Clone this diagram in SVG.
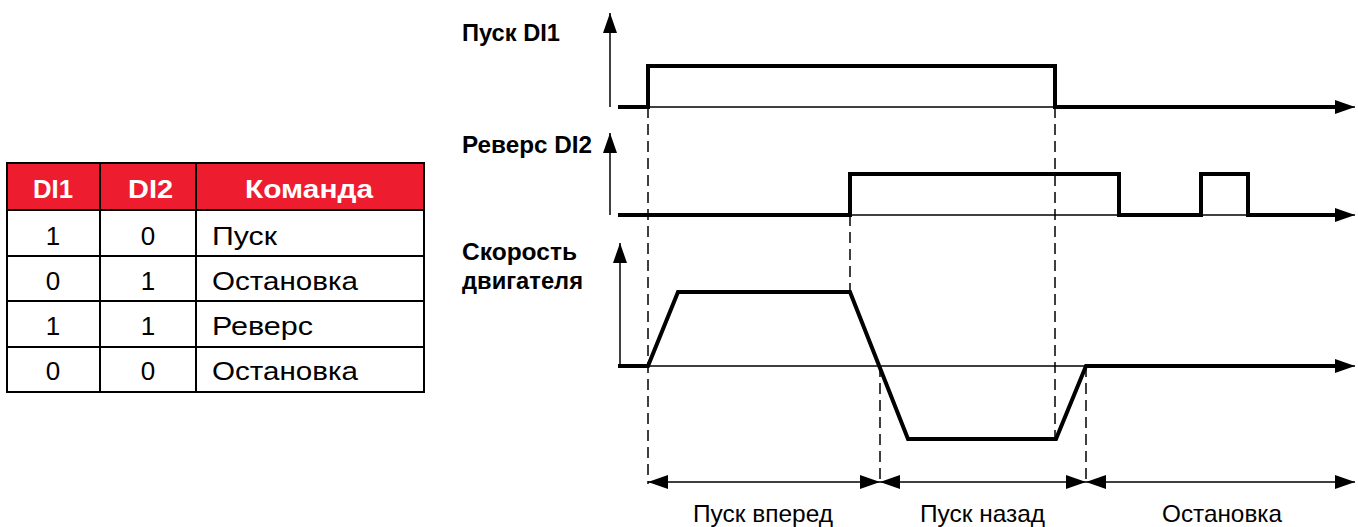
<svg xmlns="http://www.w3.org/2000/svg" width="1358" height="527" viewBox="0 0 1358 527">
<defs>
<style>
.thin{stroke:#000;stroke-width:1.5;fill:none}
.thick{stroke:#000;stroke-width:4;fill:none;stroke-linejoin:miter;stroke-linecap:square}
.dash{stroke:#000;stroke-width:1.5;fill:none;stroke-dasharray:11 6}
.lbl{font-family:"Liberation Sans",Arial,sans-serif;font-weight:bold;font-size:23px;fill:#000}
.cap{font-family:"Liberation Sans",Arial,sans-serif;font-size:24px;fill:#000}
.th{font-family:"Liberation Sans",Arial,sans-serif;font-weight:bold;font-size:26px;fill:#fff}
.td{font-family:"Liberation Sans",Arial,sans-serif;font-size:26px;fill:#000}
.grid{stroke:#000;stroke-width:2;fill:none}
</style>
<marker id="ah" viewBox="0 0 20 14" refX="20" refY="7" markerWidth="20" markerHeight="14" markerUnits="userSpaceOnUse" orient="auto-start-reverse">
<path d="M0,0 L20,7 L0,14 Z" fill="#000"/>
</marker>
</defs>

<g id="table">
<rect x="7" y="163" width="417" height="47" fill="#ED1C2E"/>
<rect x="7" y="163" width="417" height="229" class="grid"/>
<line x1="100" y1="163" x2="100" y2="392" class="grid"/>
<line x1="196" y1="163" x2="196" y2="392" class="grid"/>
<line x1="7" y1="210" x2="424" y2="210" class="grid"/>
<line x1="7" y1="256" x2="424" y2="256" class="grid"/>
<line x1="7" y1="301" x2="424" y2="301" class="grid"/>
<line x1="7" y1="347" x2="424" y2="347" class="grid"/>
<text class="th" x="33" y="198" textLength="40" lengthAdjust="spacingAndGlyphs">DI1</text>
<text class="th" x="128" y="198" textLength="45" lengthAdjust="spacingAndGlyphs">DI2</text>
<text class="th" x="245" y="198" textLength="128" lengthAdjust="spacingAndGlyphs">Команда</text>
<text class="td" x="53" y="245" text-anchor="middle">1</text>
<text class="td" x="148" y="245" text-anchor="middle">0</text>
<text class="td" x="212" y="245" textLength="65" lengthAdjust="spacingAndGlyphs">Пуск</text>
<text class="td" x="53" y="290" text-anchor="middle">0</text>
<text class="td" x="148" y="290" text-anchor="middle">1</text>
<text class="td" x="212" y="290" textLength="146" lengthAdjust="spacingAndGlyphs">Остановка</text>
<text class="td" x="53" y="335" text-anchor="middle">1</text>
<text class="td" x="148" y="335" text-anchor="middle">1</text>
<text class="td" x="212" y="335" textLength="101" lengthAdjust="spacingAndGlyphs">Реверс</text>
<text class="td" x="53" y="380" text-anchor="middle">0</text>
<text class="td" x="148" y="380" text-anchor="middle">0</text>
<text class="td" x="212" y="380" textLength="146" lengthAdjust="spacingAndGlyphs">Остановка</text>
</g>

<g id="di1">
<text class="lbl" x="462" y="41" textLength="98" lengthAdjust="spacingAndGlyphs">Пуск DI1</text>
<line x1="610" y1="107" x2="610" y2="13" class="thin" marker-end="url(#ah)"/>
<line x1="648" y1="107" x2="1355" y2="107" class="thin" marker-end="url(#ah)"/>
<polyline points="620,107 648,107 648,66 1055,66 1055,107 1335,107" class="thick"/>
</g>

<g id="di2">
<text class="lbl" x="462" y="153" textLength="130" lengthAdjust="spacingAndGlyphs">Реверс DI2</text>
<line x1="610" y1="215" x2="610" y2="133" class="thin" marker-end="url(#ah)"/>
<line x1="850" y1="215" x2="1355" y2="215" class="thin" marker-end="url(#ah)"/>
<polyline points="620,215 850,215 850,174 1119,174 1119,215 1201,215 1201,174 1248,174 1248,215 1335,215" class="thick"/>
</g>

<g id="speed">
<text class="lbl" x="462" y="260" textLength="115" lengthAdjust="spacingAndGlyphs">Скорость</text>
<text class="lbl" x="462" y="289" textLength="121" lengthAdjust="spacingAndGlyphs">двигателя</text>
<line x1="620" y1="366" x2="620" y2="243" class="thin" marker-end="url(#ah)"/>
<line x1="648" y1="366" x2="1355" y2="366" class="thin" marker-end="url(#ah)"/>
<polyline points="620,366 648,366 678,292 850,292 908,439 1056,439 1086,366 1335,366" class="thick"/>
</g>

<g id="connectors">
<line x1="648" y1="107" x2="648" y2="484" class="dash"/>
<line x1="850" y1="215" x2="850" y2="292" class="dash"/>
<line x1="880" y1="366" x2="880" y2="484" class="dash"/>
<line x1="1055" y1="107" x2="1055" y2="439" class="dash"/>
<line x1="1086" y1="366" x2="1086" y2="484" class="dash"/>
<line x1="648" y1="482" x2="880" y2="482" class="thin" marker-start="url(#ah)" marker-end="url(#ah)"/>
<line x1="880" y1="482" x2="1086" y2="482" class="thin" marker-start="url(#ah)" marker-end="url(#ah)"/>
<line x1="1086" y1="482" x2="1355" y2="482" class="thin" marker-start="url(#ah)" marker-end="url(#ah)"/>
</g>

<g id="captions">
<text class="cap" x="693" y="522" textLength="140" lengthAdjust="spacingAndGlyphs">Пуск вперед</text>
<text class="cap" x="920" y="522" textLength="125" lengthAdjust="spacingAndGlyphs">Пуск назад</text>
<text class="cap" x="1162" y="522" textLength="120" lengthAdjust="spacingAndGlyphs">Остановка</text>
</g>
</svg>
